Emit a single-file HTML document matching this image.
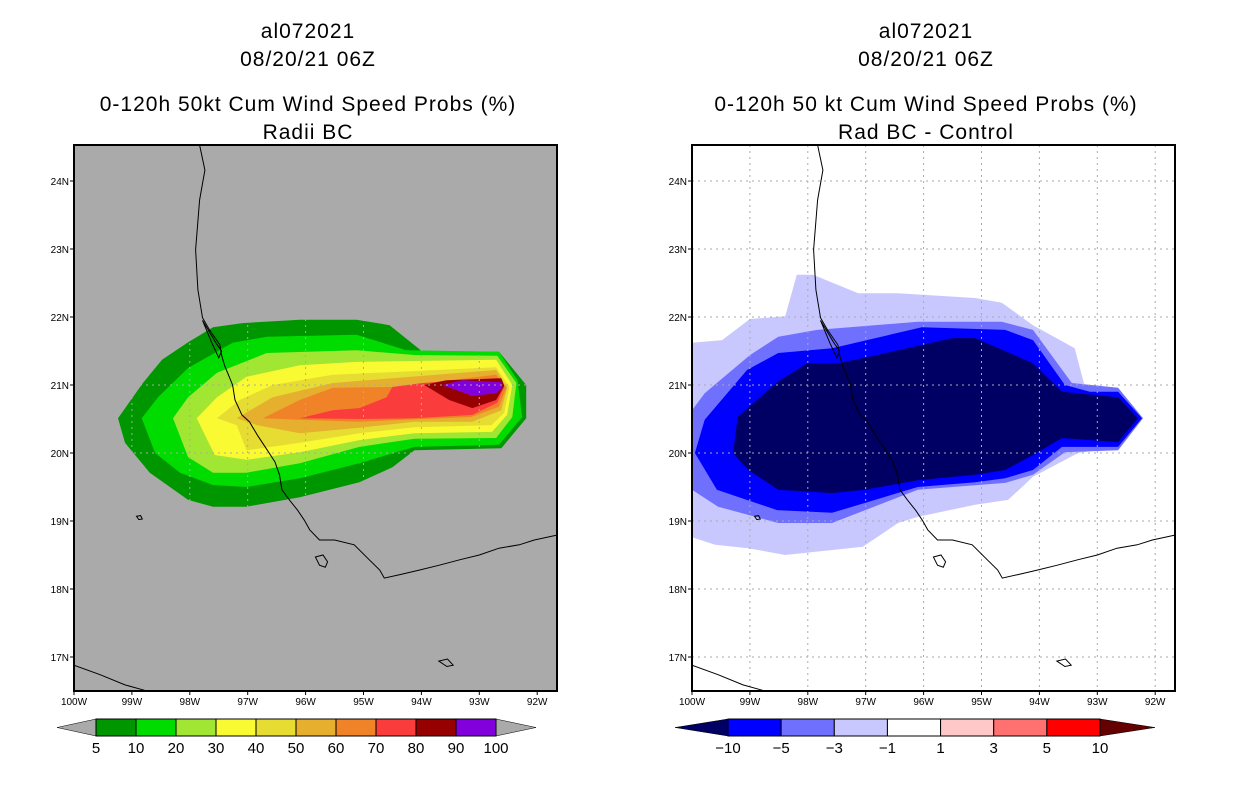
<!DOCTYPE html>
<html><head><meta charset="utf-8">
<style>
html,body{margin:0;padding:0;background:#fff;}
svg{display:block;font-family:"Liberation Sans",sans-serif;}
.t{font-size:21px;text-anchor:middle;letter-spacing:1px;}
.tk{font-size:10px;}
.cb{font-size:15px;text-anchor:middle;}
</style></head>
<body>
<svg id="chart" width="1236" height="800" viewBox="0 0 1236 800" xmlns="http://www.w3.org/2000/svg">
<g>
<text class="t" x="308" y="38">al072021</text>
<text class="t" x="308" y="66">08/20/21 06Z</text>
<text class="t" x="308" y="111">0-120h 50kt Cum Wind Speed Probs (%)</text>
<text class="t" x="308" y="139">Radii BC</text>
</g>
<g>
<text class="t" x="926" y="38">al072021</text>
<text class="t" x="926" y="66">08/20/21 06Z</text>
<text class="t" x="926" y="111">0-120h 50 kt Cum Wind Speed Probs (%)</text>
<text class="t" x="926" y="139">Rad BC - Control</text>
</g>
<defs>
<clipPath id="clipL"><rect x="74" y="145" width="483" height="546"/></clipPath>
<clipPath id="clipR"><rect x="692" y="145" width="483" height="546"/></clipPath>
</defs>
<g id="left"></g>
<g id="right"></g>
<g id="cbars"></g>
</svg>
<script>
const lonTicks=[100,99,98,97,96,95,94,93,92];
const latTicks=[24,23,22,21,20,19,18,17];
const leftLevels=["5","10","20","30","40","50","60","70","80","90","100"];
const leftColors=["#009600","#00dc00","#a0e632","#fafa32","#e6dc32","#e6af2d","#f08228","#fa3c3c","#960000","#8200dc"];
const rightLevels=["-10","-5","-3","-1","1","3","5","10"];
const rightColors=["#0000ff","#7070ff","#c8c8ff","#ffffff","#ffc8c8","#ff7070","#ff0000"];
const rightEnds=["#000064","#640000"];
const p05=[[99.24,20.51],[98.81,21.03],[98.48,21.37],[98.03,21.63],[97.60,21.85],[97.09,21.91],[96.10,21.96],[95.12,21.96],[94.55,21.88],[93.98,21.49],[92.66,21.49],[92.19,21.00],[92.19,20.51],[92.62,20.07],[94.12,20.04],[94.50,19.79],[95.07,19.57],[96.10,19.35],[97.02,19.21],[97.60,19.21],[98.03,19.31],[98.69,19.71],[99.12,20.15]];
const p10=[[98.83,20.51],[98.55,20.82],[98.03,21.25],[97.26,21.62],[96.67,21.71],[95.12,21.74],[94.26,21.51],[92.66,21.49],[92.34,21.07],[92.26,20.53],[92.66,20.12],[94.12,20.09],[95.07,19.85],[96.10,19.63],[97.02,19.50],[97.60,19.53],[98.17,19.71],[98.60,20.00]];
const p20=[[98.29,20.51],[98.03,20.82],[97.53,21.18],[96.67,21.47],[95.12,21.51],[94.09,21.44],[92.69,21.43],[92.36,21.03],[92.43,20.53],[92.71,20.22],[94.12,20.21],[95.07,20.09],[96.10,19.85],[97.02,19.71],[97.60,19.71],[98.03,19.94]];
const p30=[[97.88,20.51],[97.53,20.82],[97.02,21.12],[96.10,21.29],[95.12,21.34],[92.71,21.37],[92.43,21.00],[92.52,20.56],[92.78,20.31],[94.12,20.29],[95.07,20.19],[96.10,20.01],[97.02,19.90],[97.57,19.97]];
const p40=[[97.53,20.51],[97.14,20.78],[96.57,21.00],[95.53,21.15],[92.71,21.26],[92.48,20.97],[92.57,20.59],[92.79,20.41],[94.12,20.38],[95.07,20.29],[96.10,20.15],[97.02,20.04],[97.19,20.41]];
const p50=[[97.19,20.51],[96.57,20.82],[95.53,21.03],[92.71,21.22],[92.52,20.96],[92.62,20.63],[93.12,20.46],[94.12,20.46],[95.07,20.37],[96.10,20.29],[96.84,20.41]];
const p60=[[96.74,20.51],[96.10,20.78],[95.53,20.96],[94.50,20.97],[92.71,21.15],[92.53,20.96],[92.66,20.68],[93.14,20.53],[95.07,20.46],[96.10,20.49]];
const p70=[[96.10,20.51],[95.53,20.63],[95.07,20.66],[94.60,20.82],[94.50,20.97],[93.98,21.03],[92.69,21.10],[92.57,20.97],[92.69,20.74],[93.12,20.56],[94.12,20.51],[95.07,20.50]];
const p80=[[93.95,21.00],[93.57,21.07],[92.62,21.10],[92.57,20.99],[92.71,20.78],[93.12,20.66],[93.52,20.78]];
const p90=[[93.64,21.00],[93.29,21.07],[92.62,21.04],[92.60,20.97],[92.71,20.88],[93.12,20.84]];
const leftPolys=[p05,p10,p20,p30,p40,p50,p60,p70,p80,p90];
const d1=[[100.00,21.62],[99.48,21.66],[99.00,21.97],[98.39,22.01],[98.19,22.62],[97.91,22.62],[97.13,22.35],[96.44,22.35],[95.11,22.28],[94.65,22.21],[94.11,21.88],[93.39,21.54],[93.21,20.96],[92.64,20.96],[92.21,20.51],[92.64,20.09],[93.33,20.00],[94.11,19.65],[94.54,19.31],[95.11,19.24],[96.10,19.06],[96.44,18.97],[97.05,18.62],[98.39,18.50],[99.03,18.60],[99.60,18.65],[100.00,18.76]];
const d3=[[100.00,20.63],[99.78,20.88],[99.00,21.44],[98.51,21.71],[97.84,21.81],[96.10,21.93],[94.65,21.93],[94.11,21.81],[93.44,21.03],[92.64,20.96],[92.21,20.51],[92.64,20.04],[93.56,20.01],[94.11,19.68],[94.59,19.56],[96.10,19.46],[97.58,18.97],[98.51,18.97],[99.55,19.21],[100.00,19.46]];
const d5=[[99.95,20.00],[99.78,20.49],[99.05,21.22],[98.51,21.47],[97.58,21.54],[96.03,21.85],[94.59,21.81],[94.11,21.66],[93.56,21.00],[93.13,20.90],[92.64,20.90],[92.23,20.51],[92.64,20.09],[93.61,20.09],[94.11,19.75],[94.59,19.63],[95.11,19.57],[96.10,19.50],[97.58,19.12],[98.53,19.16],[99.57,19.46]];
const d10=[[99.29,20.00],[99.21,20.53],[98.53,21.04],[98.01,21.32],[97.48,21.32],[97.01,21.40],[95.51,21.69],[95.11,21.69],[94.11,21.32],[93.61,20.90],[92.64,20.82],[92.30,20.51],[92.64,20.16],[93.61,20.22],[94.11,19.97],[94.59,19.75],[95.11,19.68],[96.10,19.60],[97.01,19.46],[97.58,19.41],[98.51,19.46],[99.03,19.75]];
const rightPolys=[d1,d3,d5,d10];
const rightPolyColors=["#c8c8ff","#7070ff","#0000ff","#000064"];
const coast=[[97.83,24.53],[97.74,24.16],[97.83,23.72],[97.90,22.99],[97.86,22.40],[97.78,21.99],[97.66,21.81],[97.48,21.59],[97.45,21.44],[97.40,21.29],[97.26,21.00],[97.22,20.78],[97.10,20.56],[96.97,20.46],[96.83,20.26],[96.66,20.04],[96.53,19.87],[96.45,19.68],[96.41,19.46],[96.28,19.31],[96.14,19.16],[96.02,19.01],[95.93,18.87],[95.76,18.72],[95.50,18.72],[95.16,18.65],[94.90,18.43],[94.72,18.28],[94.64,18.16],[94.38,18.21],[94.03,18.28],[93.69,18.35],[93.34,18.43],[93.00,18.50],[92.66,18.60],[92.31,18.65],[92.05,18.72],[91.67,18.79]];
const coast2=[[100.00,16.88],[99.55,16.74],[99.12,16.59],[98.78,16.51]];
const lagoon=[[97.78,21.95],[97.55,21.62],[97.45,21.50],[97.50,21.40],[97.62,21.62]];
const island1=[[95.83,18.47],[95.70,18.50],[95.62,18.40],[95.66,18.32],[95.76,18.35]];
const island2=[[93.70,16.94],[93.55,16.97],[93.45,16.88],[93.56,16.86]];
const island3=[[98.92,19.07],[98.85,19.08],[98.82,19.03],[98.88,19.02]];
const NS="http://www.w3.org/2000/svg";
function mk(t,a,p){const e=document.createElementNS(NS,t);for(const k in a)e.setAttribute(k,a[k]);p.appendChild(e);return e;}
function proj(x0){return{x:l=>x0+(100-l)*57.9,y:la=>453-(la-20)*68};}
function pts(P,arr){return arr.map(q=>P.x(q[0]).toFixed(1)+","+P.y(q[1]).toFixed(1)).join(" ");}
function panel(gid,x0,bg,clip,polys,cols,gridCol){
  const g=document.getElementById(gid);const P=proj(x0);
  const r=mk('rect',{x:x0,y:145,width:483,height:546,fill:bg},g);
  
  
  const cg=mk('g',{'clip-path':'url(#'+clip+')'},g);
  polys.forEach((p,i)=>{const e=mk('polygon',{points:pts(P,p),fill:cols[i]},cg);
    
    });
  lonTicks.forEach(l=>{const x=P.x(l);const e=mk('line',{x1:x,x2:x,y1:145,y2:691,stroke:gridCol,'stroke-dasharray':'2,4'},cg);
    
    });
  latTicks.forEach(l=>{const y=P.y(l);const e=mk('line',{x1:x0,x2:x0+483,y1:y,y2:y,stroke:gridCol,'stroke-dasharray':'2,4'},cg);
    
    });
  [coast,coast2].forEach(c=>{const e=mk('polyline',{points:pts(P,c),fill:'none',stroke:'#000','stroke-width':1},cg);
    
    });
  [lagoon,island1,island2,island3].forEach(c=>{const e=mk('polygon',{points:pts(P,c),fill:'none',stroke:'#000','stroke-width':1},cg);
    
    });
  const fr=mk('rect',{x:x0,y:145,width:483,height:546,fill:'none',stroke:'#000','stroke-width':2},g);
  
  
  lonTicks.forEach(l=>{const x=P.x(l);mk('line',{x1:x,x2:x,y1:691,y2:695,stroke:'#000'},g);
    const t=mk('text',{x:x,y:705,class:'tk','text-anchor':'middle'},g);t.textContent=l+'W';
    
    });
  latTicks.forEach(l=>{const y=P.y(l);mk('line',{x1:x0-4,x2:x0,y1:y,y2:y,stroke:'#000'},g);
    const t=mk('text',{x:x0-5,y:y+4,class:'tk','text-anchor':'end'},g);t.textContent=l+'N';
    
    });
}
panel('left',74,'#aaaaaa','clipL',leftPolys,leftColors,'#aaaaaa');
panel('right',692,'#ffffff','clipR',rightPolys,rightPolyColors,'#aaaaaa');
function cbar(x0,w,tipL,tipR,cols,labels,endL,endR,name){
  const g=document.getElementById('cbars');
  const n=cols.length,bw=w/n,y0=719,y1=736,ym=727.5;
  const a=mk('polygon',{points:`${tipL},${ym} ${x0},${y0} ${x0},${y1}`,fill:endL,stroke:'#000','stroke-width':0.5},g);
  
  
  const b=mk('polygon',{points:`${tipR},${ym} ${x0+w},${y0} ${x0+w},${y1}`,fill:endR,stroke:'#000','stroke-width':0.5},g);
  
  
  cols.forEach((c,i)=>{const r=mk('rect',{x:x0+i*bw,y:y0,width:bw,height:y1-y0,fill:c,stroke:'#000','stroke-width':1},g);
    
    });
  labels.forEach((s,i)=>{const t=mk('text',{x:x0+i*bw,y:753,class:'cb'},g);t.textContent=s.replace('-','\u2212');
    
    });
}
cbar(96,400,57,536,leftColors,leftLevels,'#aaaaaa','#aaaaaa','left-colorbar');
cbar(728,372,675,1155,rightColors,rightLevels,rightEnds[0],rightEnds[1],'right-colorbar');
</script>
</body></html>
